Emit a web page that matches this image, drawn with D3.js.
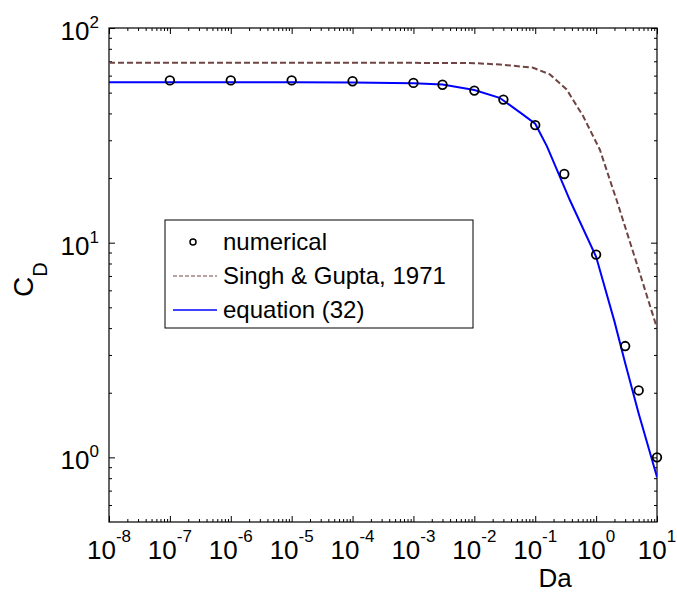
<!DOCTYPE html>
<html><head><meta charset="utf-8">
<script src="https://cdn.jsdelivr.net/npm/d3@7"></script>
<style>body{margin:0;background:#fff}svg{display:block}text{font-family:"Liberation Sans",Arial,sans-serif;fill:#000}</style>
</head><body><svg id="c" width="677" height="594"></svg>
<script>
// ---- data ----
const numDa = [1e-7,1e-6,1e-5,1e-4,1e-3,3e-3,1e-2,3e-2,0.1,0.3,1,3,5,10];
const numCD = [57,57,57,56.5,55.5,54.4,51.1,46.4,35.3,20.9,8.8,3.3,2.05,1.0];
const sgDa = [1e-8,1e-3,1e-2,0.0263,0.0926,0.174,0.328,0.614,1.153,1.91,2.17,5,10];
const sgCD = [68.8,68.8,68.6,67.6,65.3,60.8,51.7,38.8,27.1,17.6,15.8,7.5,4.0];
const eqDa = [1e-8,1e-5,1e-4,1e-3,3e-3,1e-2,2.6e-2,6.3e-2,0.1,0.156,0.37,1,2,3,5,10];
const eqCD = [55.9,55.9,55.8,55.3,54.6,51.4,47.3,39.5,35.8,28.1,15.8,8.6,4.3,2.75,1.6,0.81];
const xExp = [-8,-7,-6,-5,-4,-3,-2,-1,0,1];
const yExp = [0,1,2];
const legendLabels = ["numerical","Singh & Gupta, 1971","equation (32)"];

const svg = d3.select("#c");
const L=109,R=657,T=28,B=522;
const x = d3.scaleLog().domain([1e-8,10]).range([L,R]);
const y = d3.scaleLog().domain([0.5,100]).range([B,T]);

// minor tick values
const xMinor=[]; for(let e=-8;e<1;e++) for(let m=2;m<=9;m++) xMinor.push(m*Math.pow(10,e));
const yMinor=[]; for(let e=-1;e<2;e++) for(let m=2;m<=9;m++){const v=m*Math.pow(10,e); if(v>0.5&&v<100) yMinor.push(v);}
const xMajor = xExp.map(e=>Math.pow(10,e));
const yMajor = yExp.map(e=>Math.pow(10,e));

function axisG(axis, tx, ty){
  const g=svg.append("g").attr("transform",`translate(${tx},${ty})`).call(axis);
  g.select(".domain").remove();
  g.selectAll("text").remove();
  g.selectAll("line").attr("stroke","#000").attr("stroke-width",1);
  return g;
}
// bottom/top
axisG(d3.axisBottom(x).tickValues(xMajor).tickSize(-6),0,B);
axisG(d3.axisBottom(x).tickValues(xMinor).tickSize(-3),0,B);
axisG(d3.axisTop(x).tickValues(xMajor).tickSize(-6),0,T);
axisG(d3.axisTop(x).tickValues(xMinor).tickSize(-3),0,T);
axisG(d3.axisLeft(y).tickValues(yMajor).tickSize(-6),L,0);
axisG(d3.axisLeft(y).tickValues(yMinor).tickSize(-3),L,0);
axisG(d3.axisRight(y).tickValues(yMajor).tickSize(-6),R,0);
axisG(d3.axisRight(y).tickValues(yMinor).tickSize(-3),R,0);

svg.append("rect").attr("x",L).attr("y",T).attr("width",R-L).attr("height",B-T)
  .attr("fill","none").attr("stroke","#000").attr("stroke-width",1.2);

// x tick labels
xExp.forEach(e=>{
  const t=svg.append("text").attr("x",x(Math.pow(10,e))).attr("y",559).attr("text-anchor","middle").attr("font-size",26);
  t.append("tspan").text("10");
  t.append("tspan").attr("font-size",17).attr("dy",-17).text(String(e));
});
// y tick labels
yExp.forEach(e=>{
  const t=svg.append("text").attr("x",99).attr("y",y(Math.pow(10,e))+12).attr("text-anchor","end").attr("font-size",26);
  t.append("tspan").text("10");
  t.append("tspan").attr("font-size",17).attr("dy",-12).text(String(e));
});
// axis labels
svg.append("text").attr("x",555).attr("y",587).attr("text-anchor","middle").attr("font-size",26).text("Da");
const yl=svg.append("text").attr("transform","translate(33,297) rotate(-90)").attr("font-size",28);
yl.append("tspan").text("C");
yl.append("tspan").attr("font-size",20).attr("dy",14).text("D");

// lines
const line=d3.line().x(d=>x(d[0])).y(d=>y(d[1]));
const clip=svg.append("clipPath").attr("id","clp").append("rect").attr("x",L).attr("y",T).attr("width",R-L).attr("height",B-T);
svg.append("path").attr("clip-path","url(#clp)").datum(sgDa.map((d,i)=>[d,sgCD[i]])).attr("d",line)
  .attr("fill","none").attr("stroke","#704444").attr("stroke-width",2).attr("stroke-dasharray","6,3");
svg.append("path").attr("clip-path","url(#clp)").datum(eqDa.map((d,i)=>[d,eqCD[i]])).attr("d",line)
  .attr("fill","none").attr("stroke","#0000ff").attr("stroke-width",2);
svg.selectAll("circle.n").data(numDa.map((d,i)=>[d,numCD[i]])).enter().append("circle")
  .attr("cx",d=>x(d[0])).attr("cy",d=>y(d[1])).attr("r",4.3)
  .attr("fill","none").attr("stroke","#000").attr("stroke-width",1.8);

// legend
const lg=svg.append("g");
lg.append("rect").attr("x",165).attr("y",220).attr("width",308).attr("height",108)
  .attr("fill","#fff").attr("stroke","#000").attr("stroke-width",1);
const rows=[242,276,310];
lg.append("circle").attr("cx",193).attr("cy",rows[0]).attr("r",3).attr("fill","none").attr("stroke","#000").attr("stroke-width",1.5);
lg.append("line").attr("x1",173).attr("x2",217).attr("y1",rows[1]).attr("y2",rows[1])
  .attr("stroke","#704444").attr("stroke-width",1.2).attr("stroke-dasharray","4,2");
lg.append("line").attr("x1",173).attr("x2",217).attr("y1",rows[2]).attr("y2",rows[2])
  .attr("stroke","#0000ff").attr("stroke-width",1.5);
legendLabels.forEach((s,i)=>{
  lg.append("text").attr("x",223).attr("y",rows[i]+8).attr("font-size",24).text(s);
});
</script></body></html>
